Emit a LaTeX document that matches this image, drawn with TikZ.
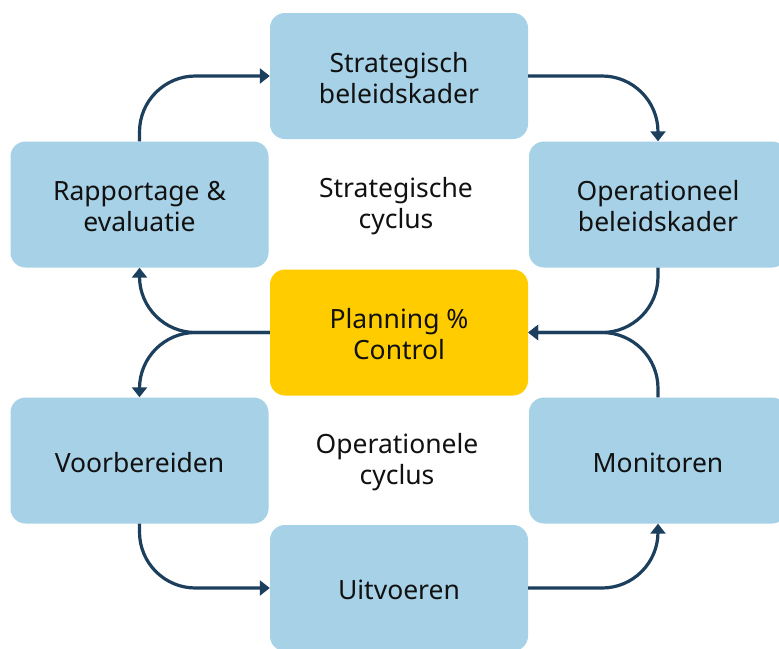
\documentclass[tikz,border=0pt]{standalone}
\usepackage{fontspec}
\setmainfont{Noto Sans}
\usetikzlibrary{arrows.meta}
\definecolor{boxblue}{HTML}{A6D1E6}
\definecolor{boxyellow}{HTML}{FFCC00}
\definecolor{arrowblue}{HTML}{1B3F5C}
\definecolor{txt}{HTML}{111111}
\begin{document}
\begin{tikzpicture}[x=1pt,y=1pt,
  cbox/.style={fill=boxblue, draw=none, rounded corners=15pt, minimum width=258pt, minimum height=126pt, inner sep=0pt},
  ybox/.style={cbox, fill=boxyellow},
  lbl/.style={align=center, inner sep=0pt, text=txt, font=\fontsize{26.5}{31}\selectfont, yshift=-2pt},
  conn/.style={draw=arrowblue, line width=3.2pt, rounded corners=56pt, -{Triangle[width=15pt,length=10pt]}}
]
\useasboundingbox (0,0) rectangle (779,-648);
\fill[white] (0,0) rectangle (779,-648);
\node[cbox] (strat) at (399,-76) {};
\node[cbox] (rapp) at (139.5,-204.5) {};
\node[cbox] (oper) at (658,-204.5) {};
\node[ybox] (plan) at (399,-332.5) {};
\node[cbox] (voor) at (139.5,-460.5) {};
\node[cbox] (moni) at (658,-460.5) {};
\node[cbox] (uitv) at (399,-588) {};
\node[lbl] (tstrat) at (strat) {Strategisch\\beleidskader};
\node[lbl] (trapp) at (rapp) {Rapportage \&\\evaluatie};
\node[lbl] (toper) at (oper) {Operationeel\\beleidskader};
\node[lbl] (tplan) at (plan) {Planning \%\\Control};
\node[lbl] (tvoor) at (voor) {Voorbereiden};
\node[lbl] (tmoni) at (moni) {Monitoren};
\node[lbl] (tuitv) at (uitv) {Uitvoeren};
\node[lbl] (scyc) at (396,-204.5) {Strategische\\cyclus};
\node[lbl] (ocyc) at (397,-460.5) {Operationele\\cyclus};
\draw[conn] (rapp.north) |- (strat.west);
\draw[conn] (strat.east) -| (oper.north);
\draw[conn] (oper.south) |- (plan.east);
\draw[conn] (moni.north) |- (plan.east);
\draw[conn] (plan.west) -| (rapp.south);
\draw[conn] (plan.west) -| (voor.north);
\draw[conn] (voor.south) |- (uitv.west);
\draw[conn] (uitv.east) -| (moni.south);
\end{tikzpicture}
\end{document}
